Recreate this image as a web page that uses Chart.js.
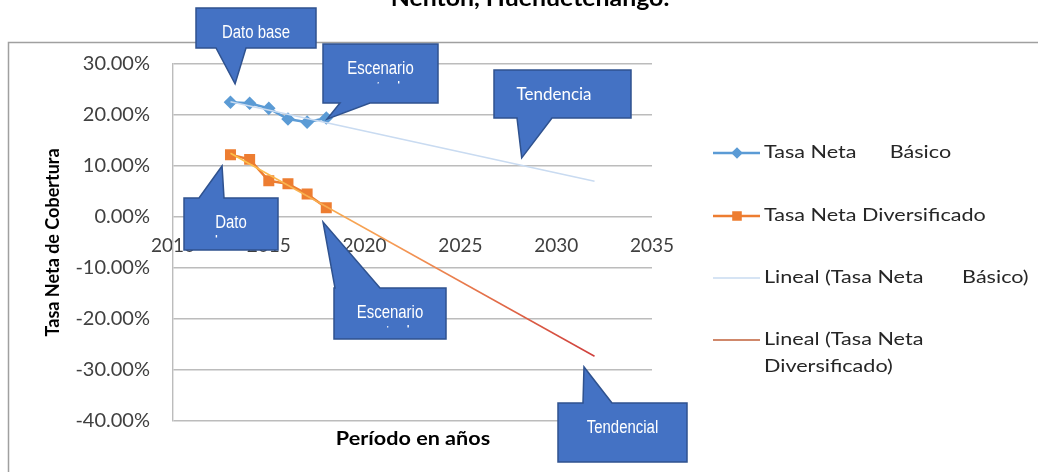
<!DOCTYPE html>
<html>
<head>
<meta charset="utf-8">
<script src="https://cdn.jsdelivr.net/npm/chart.js@4.4.1/dist/chart.umd.min.js"></script>
<style>
    body { margin: 0; background: #fff; }
    #wrap { position: relative; width: 1038px; height: 472px; overflow: hidden; }
</style>
</head>
<body>
<div id="wrap"><canvas id="chart" width="1038" height="472"></canvas></div>
<script>
// Tasa neta de cobertura, Nentón: datos y tendencias lineales

const years = [2013, 2014, 2015, 2016, 2017, 2018];
const tasaBasico = [22.5, 22.3, 21.3, 19.2, 18.6, 19.4];
const tasaDiversificado = [12.2, 11.3, 7.1, 6.5, 4.5, 1.8];
const trendYears = [2013, 2032];
const trendBasico = [22.6, 7.0];
const trendDiversificado = [12.5, -27.3];
const seriesNames = [
    'Tasa Neta      Básico',
    'Tasa Neta Diversificado',
    'Lineal (Tasa Neta       Básico)',
    'Lineal (Tasa Neta\nDiversificado)'
];
const xTicks = [2010, 2015, 2020, 2025, 2030, 2035];
const yTicks = [30, 20, 10, 0, -10, -20, -30, -40];
const chartTitle = 'Nenton, Huehuetenango.';
const xTitle = 'Período en años';
const yTitle = 'Tasa Neta de Cobertura';

// callouts: tip anchored in data units, box in px
const callouts = [
    { lines: ['Dato base'], tip: [2013.24, 26.1], box: { x: 196, y: 8, w: 120, h: 40 }, edge: 'bottom', base: [216, 246] },
    { lines: ['Escenario', 'actual'], tip: [2018.04, 19.2], box: { x: 323, y: 44, w: 115, h: 59 }, edge: 'bottom', base: [340, 370] },
    { lines: ['Tendencia'], tip: [2028.2, 11.6], box: { x: 494, y: 70, w: 137, h: 48 }, edge: 'bottom', base: [517, 552], cx: 554, calibri: true },
    { lines: ['Dato', 'base'], tip: [2012.56, 10.0], box: { x: 184, y: 198, w: 94, h: 52 }, edge: 'top', base: [199, 224] },
    { lines: ['Escenario', 'actual'], tip: [2017.83, -1.0], box: { x: 334, y: 288, w: 112, h: 51 }, edge: 'top', base: [335, 380] },
    { lines: ['Tendencial'], tip: [2031.45, -29.4], box: { x: 558, y: 403, w: 129, h: 59 }, edge: 'top', base: [583, 612] }
];

const pts = (xs, ys) => xs.map((x, i) => ({ x: x, y: ys[i] }));
const FONT = 'Lato, "Open Sans", sans-serif';
const NARROW = '"Liberation Sans Narrow", "Arial Narrow", "Liberation Sans", sans-serif';

// text with horizontal stretch (the source picture is a bit wide)
function stretchText(ctx, t, x, y, sx) {
    ctx.save();
    ctx.translate(x, y);
    ctx.scale(sx, 1);
    ctx.fillText(t, 0, 0);
    ctx.restore();
}

function trendGradient(ctx) {
    const chart = ctx.chart;
    if (!chart.chartArea) return '#f08a40';
    const x0 = chart.scales.x.getPixelForValue(trendYears[0]);
    const x1 = chart.scales.x.getPixelForValue(trendYears[1]);
    const g = chart.ctx.createLinearGradient(x0, 0, x1, 0);
    g.addColorStop(0, '#fcc24a');
    g.addColorStop(0.45, '#f59a55');
    g.addColorStop(1, '#cf3f3c');
    return g;
}

function drawCallout(ctx, c, chart) {
    const tx = chart.scales.x.getPixelForValue(c.tip[0]);
    const ty = chart.scales.y.getPixelForValue(c.tip[1]);
    const { x, y, w, h } = c.box;
    const [b1, b2] = c.base;
    ctx.beginPath();
    if (c.edge === 'bottom') {
        ctx.moveTo(x, y); ctx.lineTo(x + w, y); ctx.lineTo(x + w, y + h);
        ctx.lineTo(b2, y + h); ctx.lineTo(tx, ty); ctx.lineTo(b1, y + h); ctx.lineTo(x, y + h);
    } else {
        ctx.moveTo(x, y); ctx.lineTo(b1, y); ctx.lineTo(tx, ty); ctx.lineTo(b2, y);
        ctx.lineTo(x + w, y); ctx.lineTo(x + w, y + h); ctx.lineTo(x, y + h);
    }
    ctx.closePath();
    ctx.fillStyle = '#4472c4';
    ctx.fill();
    ctx.lineWidth = 1.5;
    ctx.strokeStyle = '#2f528f';
    ctx.stroke();

    // second line is mostly hidden by the box, as in the source
    ctx.save();
    ctx.beginPath();
    ctx.rect(x, y, w, 39.5);
    ctx.clip();
    ctx.fillStyle = '#ffffff';
    ctx.textAlign = 'center';
    ctx.textBaseline = 'alphabetic';
    ctx.font = c.calibri ? '17px ' + FONT : '18px ' + NARROW;
    const cx = c.cx || x + w / 2;
    c.lines.forEach((t, k) => stretchText(ctx, t, cx, y + 30 + k * 20, c.calibri ? 1 : 0.83));
    ctx.restore();
}

const decor = {
    id: 'decor',
    beforeDraw(chart) {
        const ctx = chart.ctx;
        ctx.save();
        ctx.fillStyle = '#fff';
        ctx.fillRect(0, 0, chart.width, chart.height);
        // outer chart border
        ctx.strokeStyle = '#a0a0a0';
        ctx.lineWidth = 1.5;
        ctx.beginPath();
        ctx.moveTo(chart.width + 2, 42.5);
        ctx.lineTo(8.5, 42.5);
        ctx.lineTo(8.5, chart.height + 2);
        ctx.stroke();
        // page title (cut at top)
        ctx.fillStyle = '#000';
        ctx.font = 'bold 23px ' + FONT;
        ctx.textAlign = 'center';
        ctx.textBaseline = 'alphabetic';
        stretchText(ctx, chartTitle, 530, 6, 1.08);
        ctx.restore();
    },
    afterDraw(chart) {
        const ctx = chart.ctx;
        ctx.save();
        // x axis title
        ctx.fillStyle = '#000';
        ctx.font = 'bold 18px ' + FONT;
        ctx.textAlign = 'center';
        ctx.textBaseline = 'middle';
        stretchText(ctx, xTitle, 413, 439, 1.2);

        // legend
        const rows = [153, 216, 278, 340];
        chart.data.datasets.forEach((ds, i) => {
            const y = rows[i];
            ctx.strokeStyle = ds.legendColor || ds.borderColor;
            ctx.lineWidth = ds.borderWidth;
            ctx.beginPath();
            ctx.moveTo(713, y);
            ctx.lineTo(760, y);
            ctx.stroke();
            if (ds.pointRadius) {
                ctx.fillStyle = ds.backgroundColor;
                ctx.strokeStyle = ds.borderColor;
                Chart.helpers.drawPoint(ctx, { pointStyle: ds.pointStyle, radius: ds.pointRadius - 1, borderWidth: 1, rotation: 0 }, 737, y);
            }
            ctx.fillStyle = '#262626';
            ctx.font = '17px ' + FONT;
            ctx.textAlign = 'left';
            ctx.textBaseline = 'middle';
            ds.label.split('\n').forEach((t, k) => stretchText(ctx, t, 764, y + k * 27, 1.27));
        });

        callouts.forEach(c => drawCallout(ctx, c, chart));
        ctx.restore();
    }
};

new Chart(document.getElementById('chart'), {
    type: 'line',
    data: {
        datasets: [
            {
                label: seriesNames[0],
                data: pts(years, tasaBasico),
                borderColor: '#5b9bd5', backgroundColor: '#5b9bd5',
                borderWidth: 2.5, pointStyle: 'rectRot', pointRadius: 5,
                order: 2
            },
            {
                label: seriesNames[1],
                data: pts(years, tasaDiversificado),
                borderColor: '#ed7d31', backgroundColor: '#ed7d31',
                borderWidth: 2.5, pointStyle: 'rect', pointRadius: 6,
                order: 2
            },
            {
                label: seriesNames[2],
                data: pts(trendYears, trendBasico),
                borderColor: '#c9dbf1', borderWidth: 1.5, pointRadius: 0,
                order: 1
            },
            {
                label: seriesNames[3],
                data: pts(trendYears, trendDiversificado),
                borderColor: trendGradient, legendColor: '#c0603a',
                borderWidth: 1.5, pointRadius: 0,
                order: 1
            }
        ]
    },
    options: {
        responsive: false,
        animation: false,
        devicePixelRatio: 1,
        layout: { padding: { top: 64, right: 386, bottom: 51, left: 0 } },
        plugins: { legend: { display: false }, tooltip: { enabled: false } },
        scales: {
            x: {
                type: 'linear',
                position: { y: 0 },
                min: xTicks[0], max: xTicks[xTicks.length - 1],
                afterBuildTicks: s => { s.ticks = xTicks.map(v => ({ value: v })); },
                grid: { display: false, drawTicks: false },
                border: { display: false },
                ticks: {
                    color: '#404040', padding: 17,
                    font: { family: FONT, size: 19 },
                    callback: v => String(v)
                }
            },
            y: {
                min: yTicks[yTicks.length - 1], max: yTicks[0],
                afterBuildTicks: s => { s.ticks = yTicks.map(v => ({ value: v })); },
                afterFit: s => { s.width = 173; },
                grid: { color: '#bcbcbc', lineWidth: 1.4, drawTicks: false },
                border: { color: '#bcbcbc', width: 1.4 },
                ticks: {
                    color: '#404040', padding: 23,
                    font: { family: FONT, size: 20 },
                    callback: v => v.toFixed(2) + '%'
                },
                title: {
                    display: true, text: yTitle, color: '#000',
                    font: { family: FONT, size: 18, weight: 'bold' },
                    padding: { top: 42, bottom: 0 }
                }
            }
        }
    },
    plugins: [decor]
});
</script>
</body>
</html>
